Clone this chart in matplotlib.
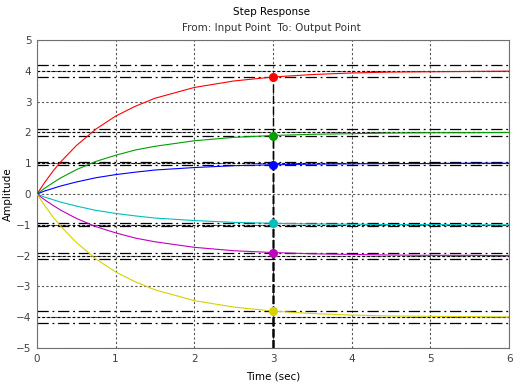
import matplotlib.pyplot as plt

# time samples
t = [0, 0.1, 0.2, 0.3, 0.5, 0.75, 1, 1.25, 1.5, 2, 2.5, 3, 3.5, 4, 4.5, 5, 5.5, 6]

red = [0, 0.38, 0.73, 1.04, 1.57, 2.11, 2.53, 2.85, 3.11, 3.46, 3.67, 3.80, 3.88, 3.93, 3.96, 3.97, 3.98, 3.99]
green = [0, 0.19, 0.36, 0.52, 0.79, 1.06, 1.26, 1.43, 1.55, 1.73, 1.84, 1.90, 1.94, 1.96, 1.98, 1.99, 1.99, 2.0]
blue = [0, 0.10, 0.18, 0.26, 0.39, 0.53, 0.63, 0.71, 0.78, 0.86, 0.92, 0.95, 0.97, 0.98, 0.99, 0.99, 1.0, 1.0]
cyan = [0, -0.10, -0.18, -0.26, -0.39, -0.53, -0.63, -0.71, -0.78, -0.86, -0.92, -0.95, -0.97, -0.98, -0.99, -0.99, -1.0, -1.0]
magenta = [0, -0.19, -0.36, -0.52, -0.79, -1.06, -1.26, -1.43, -1.55, -1.73, -1.84, -1.90, -1.94, -1.96, -1.98, -1.99, -1.99, -2.0]
yellow = [0, -0.38, -0.73, -1.04, -1.57, -2.11, -2.53, -2.85, -3.11, -3.46, -3.67, -3.80, -3.88, -3.93, -3.96, -3.97, -3.98, -3.99]

series = [red, green, blue, cyan, magenta, yellow]
colors = ["#ff0000", "#00a000", "#0000ff", "#00bfbf", "#bf00bf", "#d8d000"]

final_values = [4, 2, 1, -1, -2, -4]
band_low = [3.8, 1.9, 0.95, -0.95, -1.9, -3.8]
band_high = [4.2, 2.1, 1.05, -1.05, -2.1, -4.2]

settle_time = 3
settle_values = [3.8, 1.9, 0.95, -0.95, -1.9, -3.8]

xticks = [0, 1, 2, 3, 4, 5, 6]
yticks = [-5, -4, -3, -2, -1, 0, 1, 2, 3, 4, 5]

plt.rcParams['font.family'] = ['DejaVu Sans']
fig = plt.figure(figsize=(5.2, 3.85), dpi=100)
ax = fig.add_axes([0.071, 0.096, 0.908, 0.8])

dashdot = (0, (9, 3, 1.5, 3))
for fv, lo, hi in zip(final_values, band_low, band_high):
    ax.axhline(fv, color="black", lw=0.8, ls=(0, (2.5, 2)), zorder=2)
    ax.axhline(lo, color="black", lw=0.9, ls=dashdot, zorder=2)
    ax.axhline(hi, color="black", lw=0.9, ls=dashdot, zorder=2)

for sv in settle_values:
    ax.plot([settle_time, settle_time], [-5, sv], color="black", lw=1.0,
            ls=(0, (6, 2)), zorder=3)

for y, c in zip(series, colors):
    ax.plot(t, y, color=c, lw=0.8, zorder=4)

for sv, c in zip(settle_values, colors):
    ax.plot(settle_time, sv, "o", color=c, ms=5.5, zorder=5)

ax.set_xlim(0, 6)
ax.set_ylim(-5, 5)
ax.set_xticks(xticks)
ax.set_yticks(yticks)
ax.grid(True, color="#555555", ls=(0, (2, 2)), lw=0.8)
ax.set_axisbelow(True)
for s in ax.spines.values():
    s.set_color("#707070")
ax.tick_params(colors="#707070", labelcolor="#404040", labelsize=7.5, length=0, pad=4)

ax.set_xlabel("Time (sec)", fontsize=7.5, labelpad=6)
ax.set_ylabel("Amplitude", fontsize=7.5, labelpad=2)
fig.text(0.522, 0.968, "Step Response", ha="center", va="center", fontsize=7.5)
fig.text(0.522, 0.928, "From: Input Point  To: Output Point", ha="center", va="center",
         fontsize=7.5, color="#333333")

fig.savefig("out.png", dpi=100)
